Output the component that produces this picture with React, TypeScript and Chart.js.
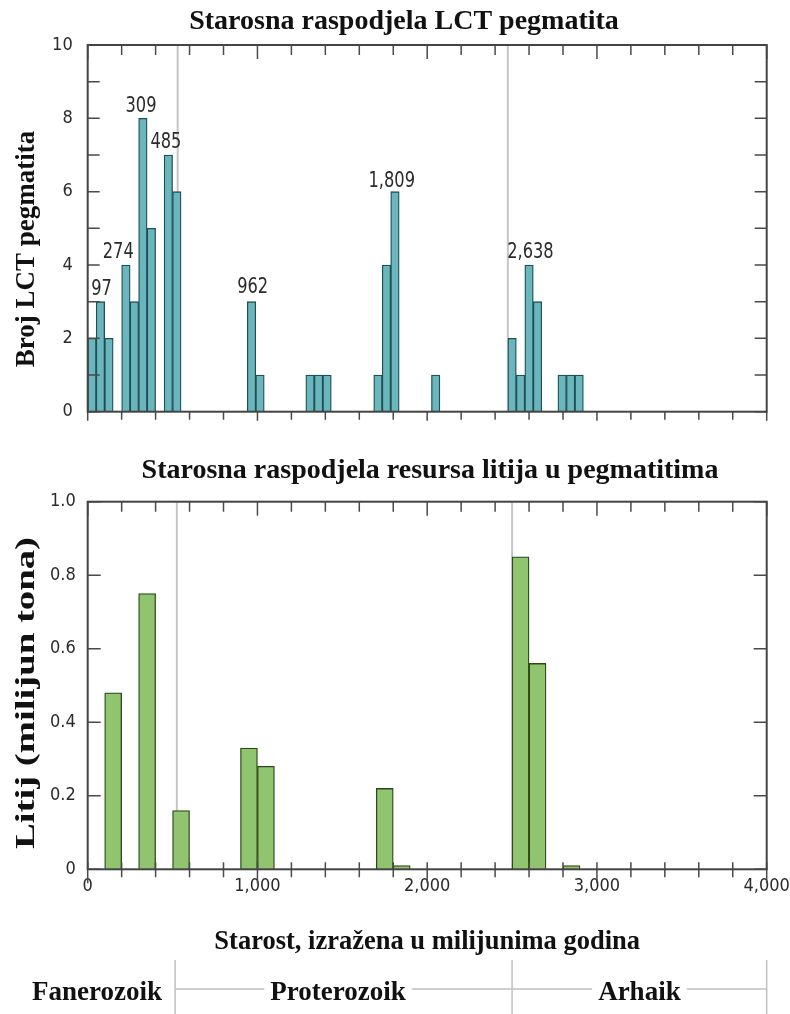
import React, { useEffect, useRef } from 'react';
import { Chart, registerables } from 'chart.js';

Chart.register(...registerables);

// ---------- text ----------
const topTitle = 'Starosna raspodjela LCT pegmatita';
const bottomTitle = 'Starosna raspodjela resursa litija u pegmatitima';
const topYTitle = 'Broj LCT pegmatita';
const bottomYTitle = 'Litij (milijun tona)';
const xTitle = 'Starost, izražena u milijunima godina';

// ---------- top chart data (number of LCT pegmatites, 50 Ma bins) ----------
const pegmatiteAges = [25, 75, 125, 225, 275, 325, 375, 475, 525, 965, 1015, 1310, 1360, 1410, 1710, 1760, 1810, 2050, 2500, 2550, 2600, 2650, 2795, 2845, 2895];
const pegmatiteCounts = [2, 3, 2, 4, 3, 8, 5, 7, 6, 3, 1, 1, 1, 1, 1, 4, 6, 1, 2, 1, 4, 3, 1, 1, 1];

const peakLabels = ['97', '274', '309', '485', '962', '1,809', '2,638'];
const peakLabelAges = [82, 180, 314, 461, 972, 1791, 2608];
const peakLabelHeights = [3.18, 4.2, 8.18, 7.18, 3.23, 6.13, 4.18];

// ---------- bottom chart data (lithium resources, 100 Ma bins) ----------
const lithiumAges = [150, 350, 550, 950, 1050, 1750, 1850, 2550, 2650, 2850];
const lithiumTonnes = [0.48, 0.75, 0.16, 0.33, 0.28, 0.22, 0.01, 0.85, 0.56, 0.01];

// ---------- ticks ----------
const xTickValues = [0, 1000, 2000, 3000, 4000];
const xTickLabels = ['0', '1,000', '2,000', '3,000', '4,000'];
const topYTickValues = [0, 2, 4, 6, 8, 10];
const topYTickLabels = ['0', '2', '4', '6', '8', '10'];
const bottomYTickValues = [0, 0.2, 0.4, 0.6, 0.8, 1.0];
const bottomYTickLabels = ['0', '0.2', '0.4', '0.6', '0.8', '1.0'];

// ---------- eon boundaries ----------
const topBoundaries = [530, 2475];
const bottomBoundaries = [525, 2500];
const eonBoundaries = [515, 2500, 4000];
const eonNames = ['Fanerozoik', 'Proterozoik', 'Arhaik'];
const eonLabelAges = [55, 1475, 3250];

const SERIF = '"Liberation Serif", "Times New Roman", serif';
const NARROW = '"Liberation Sans Narrow", "DejaVu Sans Condensed", "Roboto", sans-serif';

const TEAL = '#6BB5BD';
const TEAL_BORDER = '#1F4F55';
const GREEN = '#90C46E';
const GREEN_BORDER = '#2A481C';

function labelFor(values: number[], labels: string[], v: number) {
  const i = values.findIndex((t) => Math.abs(t - v) < 1e-6);
  return i >= 0 ? labels[i] : '';
}

type TickOpts = {
  yMax: number;
  yStep: number;
  yLen: number;
  topMinor: number;
  topMajor: number;
  bottomIn: number;
  bottomOut: number;
  bottomOutMajor: number;
};

function drawFrameAndTicks(chart: any, o: TickOpts) {
  const { ctx, chartArea: a, scales } = chart;
  const x = scales.x;
  const y = scales.y;
  ctx.save();
  ctx.strokeStyle = '#4a4a4a';
  ctx.lineWidth = 1.5;
  ctx.beginPath();
  const n = Math.round(o.yMax / o.yStep);
  for (let i = 0; i <= n; i++) {
    const py = y.getPixelForValue(i * o.yStep);
    ctx.moveTo(a.left, py);
    ctx.lineTo(a.left + o.yLen, py);
    ctx.moveTo(a.right, py);
    ctx.lineTo(a.right - o.yLen, py);
  }
  for (let v = 0; v <= 4000; v += 200) {
    const px = x.getPixelForValue(v);
    const major = v % 1000 === 0;
    ctx.moveTo(px, a.top);
    ctx.lineTo(px, a.top + (major ? o.topMajor : o.topMinor));
    ctx.moveTo(px, a.bottom - o.bottomIn);
    ctx.lineTo(px, a.bottom + (major ? o.bottomOutMajor : o.bottomOut));
  }
  ctx.stroke();
  ctx.strokeStyle = '#444';
  ctx.lineWidth = 2;
  ctx.strokeRect(a.left, a.top, a.right - a.left, a.bottom - a.top);
  ctx.restore();
}

function drawBoundaries(chart: any, ages: number[]) {
  const { ctx, chartArea: a, scales } = chart;
  ctx.save();
  ctx.strokeStyle = '#c6c6c6';
  ctx.lineWidth = 2;
  ctx.beginPath();
  ages.forEach((age) => {
    const px = scales.x.getPixelForValue(age);
    ctx.moveTo(px, a.top);
    ctx.lineTo(px, a.bottom);
  });
  ctx.stroke();
  ctx.restore();
}

function drawTitle(ctx: CanvasRenderingContext2D, text: string, x: number, y: number) {
  ctx.save();
  ctx.fillStyle = '#111';
  ctx.font = `bold 28px ${SERIF}`;
  ctx.textAlign = 'center';
  ctx.textBaseline = 'middle';
  ctx.fillText(text, x, y);
  ctx.restore();
}

// vertical axis title; `length` = optional target length along the text direction
function drawVerticalTitle(ctx: CanvasRenderingContext2D, text: string, x: number, y: number, length?: number) {
  ctx.save();
  ctx.fillStyle = '#111';
  ctx.font = `bold 27px ${SERIF}`;
  ctx.textAlign = 'center';
  ctx.textBaseline = 'middle';
  ctx.translate(x, y);
  ctx.rotate(-Math.PI / 2);
  if (length) {
    const w = ctx.measureText(text).width;
    ctx.scale(length / w, 1);
  }
  ctx.fillText(text, 0, 0);
  ctx.restore();
}

const topPlugin = {
  id: 'topDecor',
  beforeDatasetsDraw(chart: any) {
    drawBoundaries(chart, topBoundaries);
  },
  afterDatasetsDraw(chart: any) {
    const { ctx, scales } = chart;
    drawFrameAndTicks(chart, {
      yMax: 10, yStep: 1, yLen: 12, topMinor: 10, topMajor: 14,
      bottomIn: 0, bottomOut: 8, bottomOutMajor: 9,
    });
    ctx.save();
    ctx.fillStyle = '#2b2b2b';
    ctx.font = `21px ${NARROW}`;
    ctx.textAlign = 'center';
    ctx.textBaseline = 'alphabetic';
    peakLabels.forEach((t, i) => {
      const px = scales.x.getPixelForValue(peakLabelAges[i]);
      const py = scales.y.getPixelForValue(peakLabelHeights[i]);
      ctx.save();
      ctx.translate(px, py);
      ctx.scale(0.86, 1);
      ctx.fillText(t, 0, 0);
      ctx.restore();
    });
    ctx.restore();
    drawTitle(ctx, topTitle, 404, 22);
    drawVerticalTitle(ctx, topYTitle, 27, 249);
  },
};

const bottomPlugin = {
  id: 'bottomDecor',
  beforeDatasetsDraw(chart: any) {
    drawBoundaries(chart, bottomBoundaries);
  },
  afterDatasetsDraw(chart: any) {
    const { ctx, scales } = chart;
    drawFrameAndTicks(chart, {
      yMax: 1, yStep: 0.2, yLen: 13, topMinor: 10, topMajor: 14,
      bottomIn: 7, bottomOut: 8, bottomOutMajor: 14,
    });
    drawTitle(ctx, bottomTitle, 430, 31);
    drawVerticalTitle(ctx, bottomYTitle, 27, 253, 312);

    // eon row
    const lineY = 549;
    ctx.save();
    ctx.strokeStyle = '#c0c0c0';
    ctx.lineWidth = 1.5;
    ctx.beginPath();
    const bx = eonBoundaries.map((a) => scales.x.getPixelForValue(a));
    bx.forEach((px) => {
      ctx.moveTo(px, 520);
      ctx.lineTo(px, 574);
    });
    ctx.moveTo(bx[0], lineY);
    ctx.lineTo(bx[bx.length - 1], lineY);
    ctx.stroke();
    ctx.font = `bold 27px ${SERIF}`;
    ctx.textAlign = 'center';
    ctx.textBaseline = 'middle';
    eonNames.forEach((name, i) => {
      const px = scales.x.getPixelForValue(eonLabelAges[i]);
      const w = ctx.measureText(name).width;
      ctx.fillStyle = '#fff';
      ctx.fillRect(px - w / 2 - 6, lineY - 12, w + 12, 24);
      ctx.fillStyle = '#111';
      ctx.fillText(name, px, 553);
    });
    ctx.restore();
  },
};

export default function App() {
  const topRef = useRef<HTMLCanvasElement | null>(null);
  const bottomRef = useRef<HTMLCanvasElement | null>(null);

  useEffect(() => {
    document.body.style.margin = '0';
    const tickFont = { family: NARROW, size: 18 };

    const top = new Chart(topRef.current as HTMLCanvasElement, {
      type: 'bar',
      data: {
        datasets: [
          {
            data: pegmatiteAges.map((a, i) => ({ x: a, y: pegmatiteCounts[i] })),
            backgroundColor: TEAL,
            borderColor: TEAL_BORDER,
            borderWidth: 1.3,
            barPercentage: 1,
            categoryPercentage: 1,
          },
        ],
      },
      options: {
        responsive: false,
        animation: false,
        events: [],
        layout: { padding: { left: 0, right: 23.3, top: 45, bottom: 28.3 } },
        plugins: { legend: { display: false }, tooltip: { enabled: false }, title: { display: false } },
        scales: {
          x: { type: 'linear', min: 0, max: 4000, offset: false, display: false },
          y: {
            type: 'linear',
            min: 0,
            max: 10,
            afterFit: (s: any) => { s.width = 87.7; },
            grid: { display: false, drawTicks: false },
            border: { display: false },
            ticks: {
              stepSize: 2,
              padding: 15,
              color: '#2b2b2b',
              font: tickFont,
              callback: (v: any) => labelFor(topYTickValues, topYTickLabels, Number(v)),
            },
          },
        },
      } as any,
      plugins: [topPlugin],
    });

    const bottom = new Chart(bottomRef.current as HTMLCanvasElement, {
      type: 'bar',
      data: {
        datasets: [
          {
            data: lithiumAges.map((a, i) => ({ x: a, y: lithiumTonnes[i] })),
            backgroundColor: GREEN,
            borderColor: GREEN_BORDER,
            borderWidth: 1.3,
            barPercentage: 1,
            categoryPercentage: 1,
          },
        ],
      },
      options: {
        responsive: false,
        animation: false,
        events: [],
        layout: { padding: { left: 0, right: 23.3, top: 61.7, bottom: 55.8 } },
        plugins: { legend: { display: false }, tooltip: { enabled: false }, title: { display: false } },
        scales: {
          x: {
            type: 'linear',
            min: 0,
            max: 4000,
            offset: false,
            afterFit: (s: any) => {
              s.height = 88.9;
              s.paddingLeft = 0;
              s.paddingRight = 0;
            },
            grid: { display: false, drawTicks: false },
            border: { display: false },
            ticks: {
              stepSize: 1000,
              padding: 6,
              maxRotation: 0,
              color: '#2b2b2b',
              font: tickFont,
              callback: (v: any) => labelFor(xTickValues, xTickLabels, Number(v)),
            },
            title: {
              display: true,
              text: xTitle,
              color: '#111',
              font: { family: SERIF, size: 26.5, weight: 'bold', lineHeight: 1.2 },
              padding: { top: 0, bottom: 0 },
            },
          },
          y: {
            type: 'linear',
            min: 0,
            max: 1,
            afterFit: (s: any) => { s.width = 87.7; },
            grid: { display: false, drawTicks: false },
            border: { display: false },
            ticks: {
              stepSize: 0.2,
              padding: 12,
              color: '#2b2b2b',
              font: tickFont,
              callback: (v: any) => labelFor(bottomYTickValues, bottomYTickLabels, Number(v)),
            },
          },
        },
      } as any,
      plugins: [bottomPlugin],
    });

    return () => {
      top.destroy();
      bottom.destroy();
    };
  }, []);

  return (
    <div style={{ position: 'relative', width: 790, height: 1014, background: '#fff' }}>
      <canvas ref={topRef} width={790} height={440} style={{ position: 'absolute', left: 0, top: 0 }} />
      <canvas ref={bottomRef} width={790} height={574} style={{ position: 'absolute', left: 0, top: 440 }} />
    </div>
  );
}
